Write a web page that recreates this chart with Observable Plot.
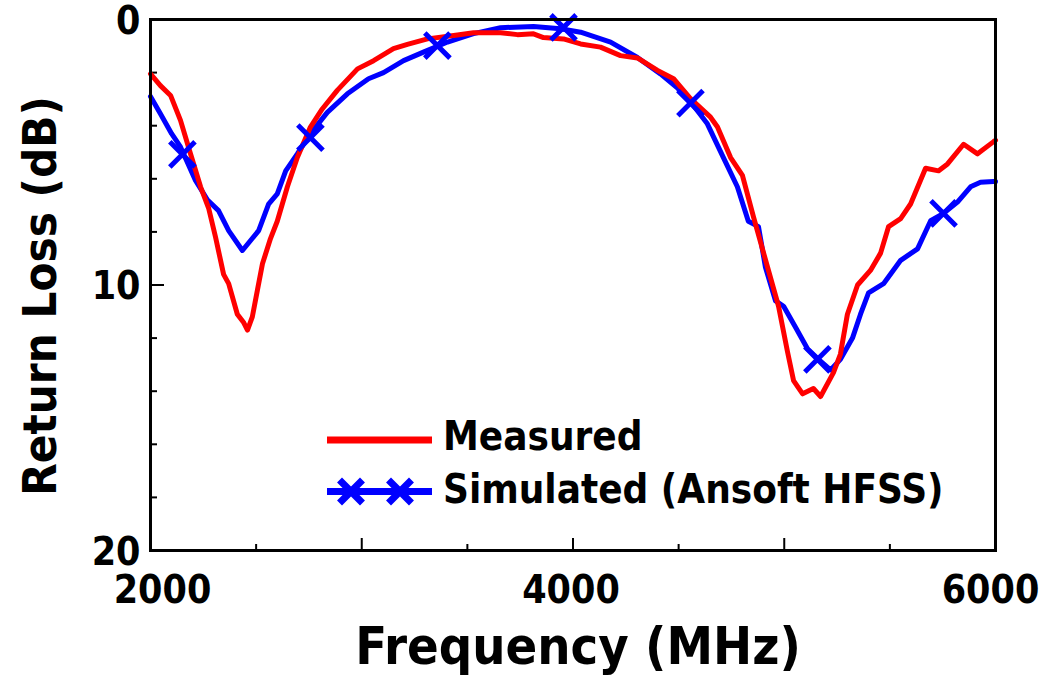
<!DOCTYPE html>
<html>
<head>
<meta charset="utf-8">
<script src="https://cdn.jsdelivr.net/npm/d3@7"></script>
<script src="https://cdn.jsdelivr.net/npm/@observablehq/plot@0.6"></script>
<style>
  html, body { margin: 0; padding: 0; background: #fff; }
  #wrap { position: relative; width: 1048px; height: 680px; }
  #wrap svg { font-family: "DejaVu Sans Condensed", "DejaVu Sans", sans-serif; font-weight: bold; font-stretch: condensed; }
  #legend { position: absolute; left: 0; top: 0; pointer-events: none; }
</style>
</head>
<body>
<div id="wrap"></div>
<script>
// ---- data ----
const measuredFreq = [2000,2047,2095,2142,2189,2237,2275,2308,2346,2370,2411,2440,2459,2482,2506,2530,2568,2600,2648,2695,2757,2813,2884,2980,3056,3150,3216,3311,3453,3529,3657,3737,3813,3860,3955,4036,4130,4225,4305,4400,4476,4556,4651,4684,4746,4802,4855,4921,4973,5015,5044,5087,5138,5172,5233,5266,5299,5347,5408,5456,5494,5551,5598,5669,5731,5773,5849,5915,5991,6000];
const measuredRL = [2.05,2.49,2.86,3.8,5.05,6.3,7.1,8.2,9.6,9.95,11.1,11.4,11.7,11.2,10.2,9.2,8.25,7.6,6.3,5.2,4.05,3.37,2.67,1.86,1.55,1.1,0.94,0.73,0.58,0.5,0.5,0.57,0.54,0.68,0.73,0.92,1.04,1.36,1.45,1.92,2.23,2.98,3.68,4.05,5.2,5.87,7.45,9.33,10.8,12.5,13.6,14.1,13.9,14.2,13.3,12.6,11.1,10.0,9.45,8.8,7.8,7.5,6.95,5.6,5.7,5.44,4.7,5.06,4.6,4.55];

const simFreq = [2000,2047,2100,2142,2213,2270,2322,2370,2435,2512,2559,2600,2640,2695,2757,2837,2932,3032,3103,3198,3292,3406,3529,3657,3813,3941,4036,4178,4305,4414,4495,4570,4636,4712,4778,4830,4878,4911,4959,4997,5054,5110,5162,5219,5266,5323,5361,5399,5470,5551,5631,5693,5754,5820,5882,5929,5991,6000];
const simRL = [2.9,3.55,4.3,4.8,6.06,6.8,7.2,7.95,8.7,7.95,6.95,6.57,5.7,5.06,4.3,3.5,2.8,2.23,2.0,1.55,1.23,0.85,0.53,0.31,0.26,0.35,0.48,0.85,1.43,2.05,2.58,3.24,3.93,5.2,6.3,7.6,7.8,9.33,10.6,10.8,11.6,12.4,12.8,13.2,12.8,12.0,11.1,10.3,9.95,9.07,8.64,7.58,7.3,6.88,6.3,6.13,6.1,6.1];

const markerFreq = [2151,2757,3358,3955,4556,5157,5754];
const markerRL = [5.08,4.45,0.98,0.3,3.15,12.8,7.3];

const xLabelTicks = [2000,4000,6000];
const xMajorTicks = [3000,4000,5000];
const xMinorTicks = [2500,3500,4500,5500];
const yLabelTicks = [0,10,20];
const yMajorTicks = [10];
const yMinorTicks = [2,4,6,8,12,14,16,18];

const seriesNames = ["Measured","Simulated (Ansoft HFSS)"];
const xTitle = "Frequency (MHz)";
const yTitle = "Return Loss (dB)";

// ---- tables ----
const measured = measuredFreq.map((f,i)=>({f, v: measuredRL[i]}));
const simulated = simFreq.map((f,i)=>({f, v: simRL[i]}));
const markers = markerFreq.map((f,i)=>({f, v: markerRL[i]}));

const W = 1048, H = 680;
const mL = 150, mR = 53, mT = 19, mB = 130;
const fw = W - mL - mR, fh = H - mT - mB;
const RED = "#ff0000", BLUE = "#0000ff";
const ff = '"DejaVu Sans Condensed", "DejaVu Sans", sans-serif';
const fmt = d => String(d);
const xLabelShift = [12, -2, -5];

const chart = Plot.plot({
  width: W, height: H,
  marginLeft: mL, marginRight: mR, marginTop: mT, marginBottom: mB,
  style: {fontFamily: ff, fontWeight: "bold", background: "white", color: "black"},
  x: {domain: [2000, 6000]},
  y: {domain: [0, 20], reverse: true},
  marks: [
    // inward ticks
    Plot.tickX(xMinorTicks, {x: d => d, insetTop: fh - 6, stroke: "black", strokeWidth: 2}),
    Plot.tickX(xMajorTicks, {x: d => d, insetTop: fh - 12, stroke: "black", strokeWidth: 2}),
    Plot.tickY(yMinorTicks, {y: d => d, insetRight: fw - 7, stroke: "black", strokeWidth: 2}),
    Plot.tickY(yMajorTicks, {y: d => d, insetRight: fw - 14, stroke: "black", strokeWidth: 2}),
    // tick labels
    ...xLabelTicks.map((t, i) => Plot.axisX([t], {tickSize: 0, tickPadding: 25, fontSize: 39, dx: xLabelShift[i], label: null, tickFormat: fmt})),
    Plot.axisY(yLabelTicks, {tickSize: 0, tickPadding: 10, fontSize: 39, dy: 2, label: null, tickFormat: fmt}),
    // titles
    Plot.text([xTitle], {text: d => d, frameAnchor: "bottom", textAnchor: "middle", dy: 113, dx: 5, lineAnchor: "bottom", fontSize: 52, fontWeight: "bold"}),
    Plot.text([yTitle], {text: d => d, frameAnchor: "left", textAnchor: "middle", dx: -95, dy: 11, rotate: -90, lineAnchor: "bottom", fontSize: 47, fontWeight: "bold"}),
    // data
    Plot.line(simulated, {x: "f", y: "v", stroke: BLUE, strokeWidth: 5}),
    Plot.line(measured, {x: "f", y: "v", stroke: RED, strokeWidth: 5}),
    Plot.dot(markers, {x: "f", y: "v", symbol: "times", r: 11.5, stroke: BLUE, strokeWidth: 5}),
    Plot.frame({stroke: "black", strokeWidth: 3})
  ]
});

const wrap = document.getElementById("wrap");
wrap.appendChild(chart);

// legend overlay
const svg = d3.select(wrap).append("svg").attr("id", "legend").attr("width", W).attr("height", H);
svg.append("line").attr("x1", 327).attr("x2", 432).attr("y1", 440).attr("y2", 440).attr("stroke", RED).attr("stroke-width", 7);
svg.append("line").attr("x1", 327).attr("x2", 432).attr("y1", 491.5).attr("y2", 491.5).attr("stroke", BLUE).attr("stroke-width", 7);
[351, 400].forEach(cx => {
  const s = 9;
  svg.append("path")
    .attr("d", `M${cx-s},${491.5-s}L${cx+s},${491.5+s}M${cx-s},${491.5+s}L${cx+s},${491.5-s}`)
    .attr("stroke", BLUE).attr("stroke-width", 7).attr("stroke-linecap", "square");
});
svg.selectAll("text.leg").data(seriesNames).join("text")
  .attr("x", 443).attr("y", (d, i) => i === 0 ? 450 : 503)
  .attr("font-size", 40).attr("font-weight", "bold")
  .attr("font-family", ff)
  .text(d => d);
</script>
</body>
</html>
